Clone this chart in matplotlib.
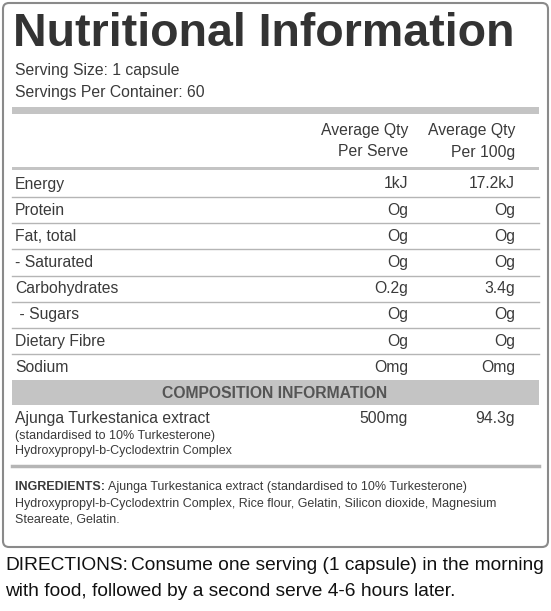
import matplotlib

matplotlib.use("Agg")

import matplotlib.pyplot as plt
from matplotlib.patches import FancyBboxPatch, Rectangle

nutrients = ["Energy", "Protein", "Fat, total", "- Saturated", "Carbohydrates",
             " - Sugars", "Dietary Fibre", "Sodium"]
per_serve = ["1kJ", "Og", "Og", "Og", "O.2g", "Og", "Og", "Omg"]
per_100g = ["17.2kJ", "Og", "Og", "Og", "3.4g", "Og", "Og", "Omg"]

serving_lines = ["Serving Size: 1 capsule", "Servings Per Container: 60"]
extract_name = "Ajunga Turkestanica extract"
extract_sub = ["(standardised to 10% Turkesterone)", "Hydroxypropyl-b-Cyclodextrin Complex"]
extract_serve = "500mg"
extract_100g = "94.3g"
ingredients = [
    "Ajunga Turkestanica extract (standardised to 10% Turkesterone)",
    "Hydroxypropyl-b-Cyclodextrin Complex, Rice flour, Gelatin, Silicon dioxide, Magnesium",
    "Steareate, Gelatin.",
]
directions = ["Consume one serving (1 capsule) in the morning",
              "with food, followed by a second serve 4-6 hours later."]

TXT = "#3a3a3a"
LINE = "#b5b5b5"
FONT = "Liberation Sans"
FS = 11.3
SMALL = 9

fig = plt.figure(figsize=(5.51, 6.11), dpi=100)
ax = fig.add_axes([0, 0, 1, 1])
ax.set_xlim(0, 551)
ax.set_ylim(611, 0)
ax.set_axis_off()

ax.add_patch(FancyBboxPatch((3, 3), 545, 544, boxstyle="round,pad=0,rounding_size=6",
                            fc="white", ec="#8a8a8a", lw=1.5))

ax.text(13, 34, "Nutritional Information", fontsize=33.5, fontweight="bold",
        family=FONT, color="#333333", va="center", ha="left")
for i, s in enumerate(serving_lines):
    ax.text(15, 71 + 22 * i, s, fontsize=FS, family=FONT, color=TXT, va="center")

ax.add_patch(Rectangle((12, 107), 527, 7, fc="#c4c4c4", ec="none"))

ax.text(408, 131, "Average Qty", fontsize=FS, family=FONT, color=TXT, ha="right", va="center")
ax.text(408, 152, "Per Serve", fontsize=FS, family=FONT, color=TXT, ha="right", va="center")
ax.text(515, 131, "Average Qty", fontsize=FS, family=FONT, color=TXT, ha="right", va="center")
ax.text(515, 152, "Per 100g", fontsize=FS, family=FONT, color=TXT, ha="right", va="center")
ax.add_patch(Rectangle((12, 167), 527, 3, fc="#c4c4c4", ec="none"))

y0, dy = 184, 26.2
for i, (n, a, b) in enumerate(zip(nutrients, per_serve, per_100g)):
    y = y0 + dy * i
    ax.text(15, y, n, fontsize=FS, family=FONT, color=TXT, va="center")
    ax.text(408, y, a, fontsize=FS, family=FONT, color=TXT, ha="right", va="center")
    ax.text(515, y, b, fontsize=FS, family=FONT, color=TXT, ha="right", va="center")
    if i < len(nutrients) - 1:
        ax.plot([12, 539], [y + 13, y + 13], color=LINE, lw=1)

ax.add_patch(Rectangle((12, 380), 527, 25, fc="#c4c4c4", ec="none"))
ax.text(275, 393, "COMPOSITION INFORMATION", fontsize=FS, fontweight="bold",
        family=FONT, color="#555555", ha="center", va="center")

ax.text(15, 418, extract_name, fontsize=FS, family=FONT, color=TXT, va="center")
ax.text(408, 418, extract_serve, fontsize=FS, family=FONT, color=TXT, ha="right", va="center")
ax.text(515, 418, extract_100g, fontsize=FS, family=FONT, color=TXT, ha="right", va="center")
for i, s in enumerate(extract_sub):
    ax.text(15, 436 + 15 * i, s, fontsize=SMALL, family=FONT, color=TXT, va="center")

ax.plot([12, 539], [466, 466], color=LINE, lw=2.5)

t = ax.text(15, 487, "INGREDIENTS: ", fontsize=SMALL, fontweight="bold", family=FONT,
            color=TXT, va="center")
fig.canvas.draw()
x = 15 + t.get_window_extent().width
ax.text(x, 487, ingredients[0], fontsize=SMALL, family=FONT, color=TXT, va="center")
for i, s in enumerate(ingredients[1:], start=1):
    ax.text(15, 487 + 16.5 * i, s, fontsize=SMALL, family=FONT, color=TXT, va="center")

dfont = ["Liberation Sans Narrow", "Liberation Sans"]
DFS = 13.8
t = ax.text(5, 566, "DIRECTIONS:", fontsize=DFS, family=dfont, color="#111111", va="center")
fig.canvas.draw()
w = t.get_window_extent().width
ax.text(5 + w + 3, 566, directions[0], fontsize=DFS, family=dfont, color="#111111", va="center")
ax.text(5, 592, directions[1], fontsize=DFS, family=dfont, color="#111111", va="center")

fig.savefig("out.png", dpi=100, facecolor="white")
